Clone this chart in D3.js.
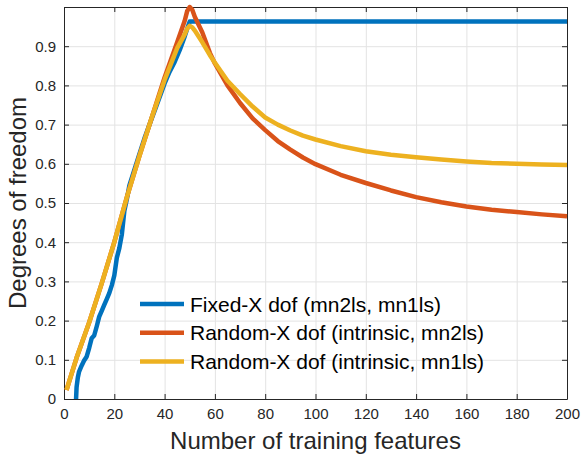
<!DOCTYPE html>
<html>
<head>
<meta charset="utf-8">
<script src="https://cdn.jsdelivr.net/npm/d3@7"></script>
<style>
  body { margin: 0; background: #fff; }
  svg { display: block; font-family: "Liberation Sans", Arial, Helvetica, sans-serif; }
  .axis path, .axis line { stroke: #262626; }
  .axis text { fill: #262626; font-size: 15px; }
  .grid line { stroke: #e3e3e3; stroke-width: 1; }
  .grid path { display: none; }
</style>
</head>
<body>
<div class="chart"></div>
<script>
// fixed-X dof (mn2ls, mn1ls)
const fixedFeatures = [4.8, 5, 5.5, 6, 7, 8, 9, 10, 11, 12, 13, 14, 15, 16, 17, 18, 19, 20, 21, 22, 23, 24, 25, 26,
  28, 30, 32, 34, 36, 38, 40, 42, 44, 46, 48, 49, 50, 200];
const fixedDof = [0, 0.03, 0.055, 0.07, 0.085, 0.098, 0.108, 0.13, 0.155, 0.162, 0.185, 0.21, 0.225, 0.24, 0.255,
  0.27, 0.29, 0.315, 0.36, 0.385, 0.42, 0.48, 0.51, 0.545,
  0.585, 0.625, 0.665, 0.7, 0.735, 0.77, 0.805, 0.835, 0.86, 0.89, 0.925, 0.945, 0.963, 0.963];

// random-X dof (intrinsic)
const randomFeatures = [1, 5, 10, 15, 20, 25, 30, 35, 40, 45, 48, 49, 50, 51, 52, 55, 58, 60, 65, 70, 75, 80, 85, 90, 95,
  100, 110, 120, 130, 140, 150, 160, 170, 180, 190, 200];
const mn2lsDof = [0.023, 0.105, 0.195, 0.295, 0.4, 0.515, 0.62, 0.72, 0.82, 0.91, 0.965, 0.99, 1.0, 0.993, 0.975, 0.935, 0.883,
  0.856, 0.8, 0.755, 0.716, 0.686, 0.658, 0.636, 0.616,
  0.599, 0.572, 0.551, 0.532, 0.515, 0.502, 0.491, 0.483, 0.477, 0.471, 0.466];
const mn1lsDof = [0.023, 0.105, 0.195, 0.295, 0.4, 0.515, 0.62, 0.72, 0.814, 0.895, 0.93, 0.945, 0.952, 0.948, 0.94, 0.91, 0.877,
  0.858, 0.812, 0.778, 0.746, 0.718, 0.7, 0.685, 0.672,
  0.662, 0.645, 0.632, 0.623, 0.617, 0.611, 0.606, 0.602, 0.6, 0.598, 0.597];

const xTicks = [0, 20, 40, 60, 80, 100, 120, 140, 160, 180, 200];
const yTicks = [0, 0.1, 0.2, 0.3, 0.4, 0.5, 0.6, 0.7, 0.8, 0.9];
const seriesNames = ["Fixed-X dof (mn2ls, mn1ls)", "Random-X dof (intrinsic, mn2ls)", "Random-X dof (intrinsic, mn1ls)"];
const seriesColors = ["#0072BD", "#D95319", "#EDB120"];

/* margins and container */
const margin = {top: 7, right: 15, bottom: 57, left: 64};
const width = 582 - margin.left - margin.right;
const height = 456 - margin.top - margin.bottom;

const svg = d3.select(".chart").append("svg")
  .attr("width", width + margin.left + margin.right)
  .attr("height", height + margin.top + margin.bottom)
  .append("g")
    .attr("transform", "translate(" + margin.left + "," + margin.top + ")");

/* scales */
const xScale = d3.scaleLinear().domain([0, 200]).range([0, width]);
const yScale = d3.scaleLinear().domain([0, 1]).range([height, 0]);

/* grid lines */
svg.append("g")
  .attr("class", "grid")
  .attr("transform", `translate(0, ${height})`)
  .call(d3.axisBottom(xScale).tickValues(xTicks).tickSize(-height).tickFormat(""));

svg.append("g")
  .attr("class", "grid")
  .call(d3.axisLeft(yScale).tickValues(yTicks).tickSize(-width).tickFormat(""));

/* axes, ticks pointing inward */
const fmtY = d => d === 0 ? "0" : d3.format(".1f")(d);

svg.append("g")
  .attr("class", "axis xAxis")
  .attr("transform", `translate(0, ${height})`)
  .call(d3.axisBottom(xScale).tickValues(xTicks).tickSizeInner(-5).tickSizeOuter(0).tickPadding(9));

svg.append("g")
  .attr("class", "axis yAxis")
  .call(d3.axisLeft(yScale).tickValues(yTicks).tickFormat(fmtY).tickSizeInner(-5).tickSizeOuter(0).tickPadding(8));

svg.append("g")
  .attr("class", "axis")
  .call(d3.axisTop(xScale).tickValues(xTicks).tickSizeInner(-5).tickSizeOuter(0).tickFormat(""));

svg.append("g")
  .attr("class", "axis")
  .attr("transform", `translate(${width}, 0)`)
  .call(d3.axisRight(yScale).tickValues(yTicks).tickSizeInner(-5).tickSizeOuter(0).tickFormat(""));

/* axis titles */
svg.append("text")
  .attr("x", width / 2)
  .attr("y", height + 50)
  .attr("text-anchor", "middle")
  .attr("fill", "#262626")
  .style("font-size", "24px")
  .text("Number of training features");

svg.append("text")
  .attr("transform", `translate(${-38}, ${height / 2}) rotate(-90)`)
  .attr("text-anchor", "middle")
  .attr("fill", "#262626")
  .style("font-size", "24px")
  .text("Degrees of freedom");

/* data lines */
const line = d3.line()
  .x(d => xScale(d[0]))
  .y(d => yScale(d[1]));

const series = [
  d3.zip(fixedFeatures, fixedDof),
  d3.zip(randomFeatures, mn2lsDof),
  d3.zip(randomFeatures, mn1lsDof)
];

series.forEach((data, i) => {
  svg.append("path")
    .datum(data)
    .attr("d", line)
    .attr("fill", "none")
    .attr("stroke", seriesColors[i])
    .attr("stroke-width", 4.5)
    .attr("stroke-linejoin", "round");
});

/* legend (no box) */
const legend = svg.append("g")
  .attr("transform", "translate(76, 297)");

seriesNames.forEach((name, i) => {
  const row = legend.append("g").attr("transform", `translate(0, ${i * 28.7})`);
  row.append("line")
    .attr("x1", 0).attr("x2", 44)
    .attr("stroke", seriesColors[i])
    .attr("stroke-width", 4.5);
  row.append("text")
    .attr("x", 50)
    .attr("y", 7.5)
    .attr("fill", "#000")
    .style("font-size", "21px")
    .text(name);
});
</script>
</body>
</html>
